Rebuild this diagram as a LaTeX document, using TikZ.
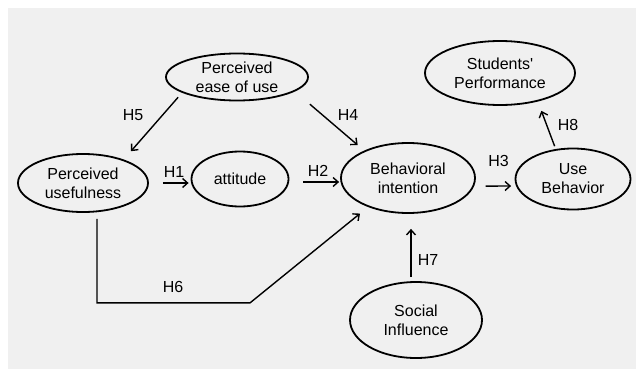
\documentclass[tikz,border=0pt]{standalone}
\usepackage{fontspec}
\setmainfont{Liberation Sans}
\usetikzlibrary{arrows.meta,shapes.geometric}

\begin{document}
\begin{tikzpicture}[x=1pt,y=-1pt,
  construct/.style={draw,ellipse,line width=1.8pt,inner sep=0pt,align=center,
    font=\fontsize{16}{19}\selectfont},
  hyp/.style={line width=1.4pt,-{Straight Barb[length=5pt,width=9pt]}},
  hlabel/.style={inner sep=0pt,font=\fontsize{16}{19}\selectfont}]
  \useasboundingbox (0,0) rectangle (636,369);
  \fill[black!6] (8,8) rectangle (636,369);
  % constructs
  \node[construct,minimum width=142pt,minimum height=47pt] (peou) at (237,77) {Perceived\\ease of use};
  \node[construct,minimum width=130pt,minimum height=58pt] (pu) at (83,183) {Perceived\\usefulness};
  \node[construct,minimum width=97pt,minimum height=55pt] (att) at (240,179) {attitude};
  \node[construct,minimum width=134pt,minimum height=70pt] (bi) at (408,178) {Behavioral\\intention};
  \node[construct,minimum width=115pt,minimum height=61pt] (ub) at (573,179) {Use\\Behavior};
  \node[construct,minimum width=150pt,minimum height=64pt] (sp) at (500,73) {Students\textquotesingle\\Performance};
  \node[construct,minimum width=132pt,minimum height=76pt] (si) at (416,320) {Social\\Influence};
  % hypotheses
  \draw[hyp,shorten <=6pt,shorten >=11pt] (peou.196) -- (pu.30);
  \draw[hyp,shorten <=19.6pt,shorten >=8.5pt] (peou.-14) -- (bi.148.6);
  \draw[hyp,shorten <=14pt,shorten >=2pt] (pu.east) -- (pu.east -| att.west);
  \draw[hyp,shorten <=14pt,shorten >=1pt] ([yshift=-3pt]att.east) -- ([yshift=-3pt]att.east -| bi.west);
  \draw[hyp,shorten <=11.5pt,shorten >=5pt] (bi.-7) -- (ub.187);
  \draw[hyp,shorten <=3pt,shorten >=10pt] (ub.120) -- (sp.-37.5);
  \draw[hyp,shorten <=4pt,shorten >=15pt] ([xshift=-5pt]si.north) -- ([xshift=3pt]bi.south);
  \draw[hyp,shorten <=6pt,shorten >=10.4pt] ([xshift=14pt]pu.south) -- ++(0,90) -- ++(153,0) -- (bi.216.2);
  % labels
  \node[hlabel] (h1) at (174,172) {H1};
  \node[hlabel] (h2) at (318,171) {H2};
  \node[hlabel] (h3) at (498.5,160.5) {H3};
  \node[hlabel] (h4) at (348,115) {H4};
  \node[hlabel] (h5) at (133,115) {H5};
  \node[hlabel] (h6) at (173,287) {H6};
  \node[hlabel] (h7) at (428,260) {H7};
  \node[hlabel] (h8) at (568,125) {H8};
\end{tikzpicture}
\end{document}
